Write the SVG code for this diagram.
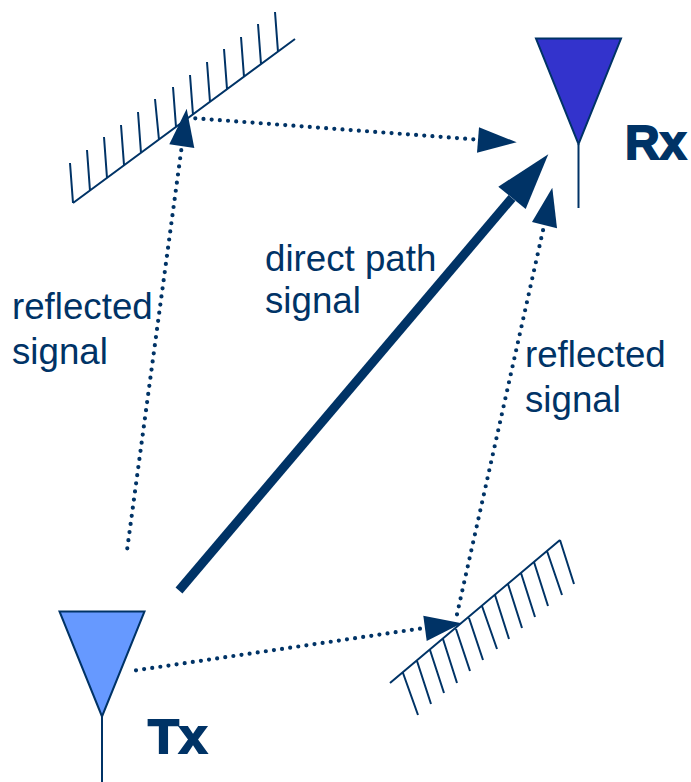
<svg xmlns="http://www.w3.org/2000/svg" width="691" height="782" viewBox="0 0 691 782">
<style>
.lbl{font-family:"Liberation Sans",Arial,sans-serif;font-size:36.7px;fill:#003366}
.big{font-family:"Liberation Sans",Arial,sans-serif;font-size:48px;font-weight:700;fill:#003366;stroke:#003366;stroke-width:1.8}
.ant{stroke:#003366;stroke-width:2;stroke-linejoin:miter}
.stem{stroke:#003366;stroke-width:2;fill:none}
.mir{stroke:#003366;stroke-width:2;fill:none}
.dot{stroke:#003366;stroke-width:4.2;stroke-linecap:round;stroke-dasharray:0 8.2;fill:none}
.head{fill:#003366}
</style>
<rect width="691" height="782" fill="#ffffff"/>
<g id="mirror-top">
<path class="mir" d="M73 203L295 39M70 163L73 203M87 150L90 191M104 137L107 178M121 125L124 165M138 112L141 153M155 99L159 140M173 87L176 127M190 75L193 115M207 62L210 102M224 49L227 89M241 37L244 77M258 24L261 64M275 12L278 52"/>
</g>
<g id="mirror-bottom">
<path class="mir" d="M390 683L560 540M403 673L418 715M417 661L431 704M430 650L444 693M443 639L457 683M456 629L470 671M469 618L483 660M482 606L497 649M495 595L509 639M508 584L522 628M521 573L535 617M534 562L548 606M547 551L562 595M560 540L574 584"/>
</g>
<g id="tx">
<polygon class="ant" points="59.5,611.5 144.5,611.5 102,716.5" fill="#6699ff"/>
<line class="stem" x1="102" y1="716" x2="102" y2="782"/>
<text class="big" x="148" y="753" textLength="59" lengthAdjust="spacingAndGlyphs">Tx</text>
</g>
<g id="rx">
<polygon class="ant" points="536,38.5 621,38.5 578.5,144" fill="#3333cc"/>
<line class="stem" x1="578.5" y1="144" x2="578.5" y2="208"/>
<text class="big" x="625" y="159">Rx</text>
</g>
<g id="connectors">
<path class="dot" d="M127.3 548.3L181.7 147"/>
<polygon class="head" points="186.7,108.7 169.3,144.3 194.3,148"/>
<path class="dot" d="M195.3 118.3L476 139.5"/>
<polygon class="head" points="479,127.3 516.7,142.3 477,152.7"/>
<path stroke="#003366" stroke-width="9" fill="none" d="M179 590.5L512 198"/>
<polygon class="head" points="548.3,154.3 498.3,186.7 525.7,209"/>
<path class="dot" d="M457 614.3L543.7 227.3"/>
<polygon class="head" points="552.3,187.7 532,222 557,228.3"/>
<path class="dot" d="M136 670.3L422.3 628.3"/>
<polygon class="head" points="461.7,623.3 423.3,615.7 426.7,641"/>
</g>
<g id="labels">
<text class="lbl" x="265" y="271">direct path</text>
<text class="lbl" x="265" y="313">signal</text>
<text class="lbl" x="12" y="319">reflected</text>
<text class="lbl" x="12" y="364">signal</text>
<text class="lbl" x="525" y="367">reflected</text>
<text class="lbl" x="525" y="412">signal</text>
</g>
</svg>
